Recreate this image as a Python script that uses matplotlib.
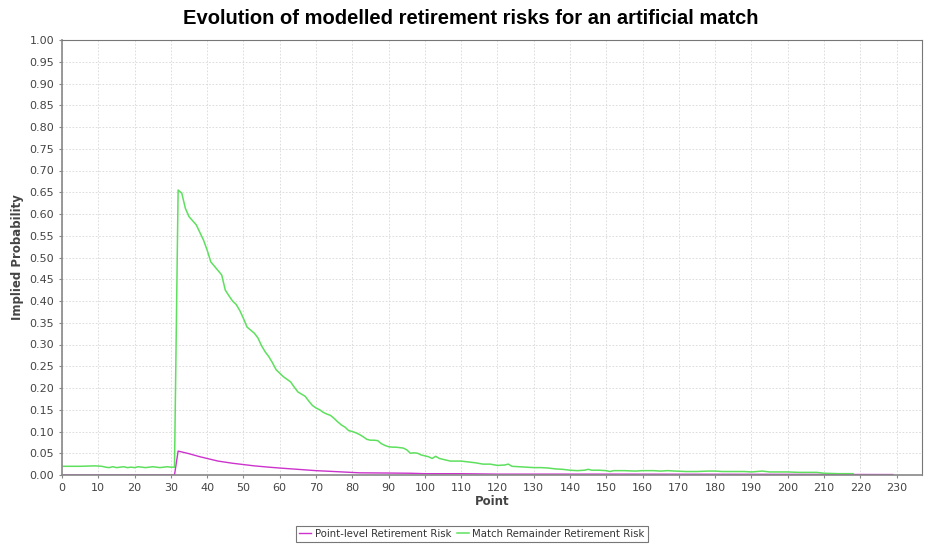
import matplotlib
matplotlib.use("Agg")
import matplotlib.pyplot as plt
from matplotlib.ticker import MultipleLocator, FormatStrFormatter

# Match Remainder Retirement Risk (green)
match_x = [0, 5, 9, 11, 12, 13, 14, 15, 16, 17, 18, 19, 20, 21, 22, 23, 24, 25,
           26, 27, 28, 29, 30, 31, 32, 33, 34, 35, 37, 39, 40, 41, 42, 43, 44,
           45, 46, 47, 48, 49, 50, 51, 52, 53, 54, 55, 56, 57, 58, 59, 60, 61,
           62, 63, 64, 65, 66, 67, 68, 69, 70, 71, 72, 73, 74, 75, 76, 77, 78,
           79, 80, 81, 82, 83, 84, 85, 86, 87, 88, 89, 90, 91, 92, 93, 94, 95,
           96, 97, 98, 99, 100, 101, 102, 103, 104, 105, 106, 107, 108, 110,
           112, 114, 116, 118, 120, 122, 123, 124, 126, 128, 130, 132, 134,
           136, 138, 140, 142, 144, 145, 146, 148, 150, 151, 152, 155, 158,
           160, 163, 165, 167, 169, 172, 175, 178, 180, 182, 185, 188, 190,
           193, 195, 198, 200, 203, 205, 208, 210, 214, 218]
match_y = [0.020, 0.020, 0.021, 0.020, 0.018, 0.017, 0.019, 0.017, 0.018, 0.019,
           0.017, 0.018, 0.017, 0.019, 0.018, 0.017, 0.018, 0.019, 0.018, 0.017,
           0.018, 0.019, 0.018, 0.018, 0.655, 0.648, 0.613, 0.594, 0.575, 0.540,
           0.517, 0.490, 0.480, 0.470, 0.460, 0.425, 0.412, 0.400, 0.392, 0.378,
           0.360, 0.340, 0.333, 0.326, 0.315, 0.297, 0.283, 0.272, 0.258, 0.242,
           0.234, 0.226, 0.220, 0.214, 0.202, 0.191, 0.186, 0.181, 0.170, 0.160,
           0.154, 0.150, 0.144, 0.140, 0.137, 0.130, 0.122, 0.115, 0.110, 0.102,
           0.100, 0.097, 0.093, 0.088, 0.082, 0.080, 0.080, 0.079, 0.072, 0.068,
           0.065, 0.064, 0.064, 0.063, 0.062, 0.058, 0.050, 0.051, 0.050, 0.046,
           0.044, 0.042, 0.038, 0.043, 0.038, 0.036, 0.034, 0.032, 0.032, 0.032,
           0.030, 0.028, 0.025, 0.025, 0.022, 0.023, 0.025, 0.020, 0.019, 0.018,
           0.017, 0.017, 0.016, 0.014, 0.013, 0.011, 0.010, 0.011, 0.013, 0.011,
           0.011, 0.010, 0.008, 0.010, 0.010, 0.009, 0.010, 0.010, 0.009, 0.010,
           0.009, 0.008, 0.008, 0.009, 0.009, 0.008, 0.008, 0.008, 0.007, 0.009,
           0.007, 0.007, 0.007, 0.006, 0.006, 0.006, 0.004, 0.003, 0.003]

# Point-level Retirement Risk (magenta)
point_x = [0, 31, 32, 35, 38, 40, 43, 47, 50, 53, 57, 60, 65, 70, 75, 82, 90, 96,
           100, 110, 120, 150, 200, 229]
point_y = [0.0, 0.0, 0.055, 0.049, 0.042, 0.038, 0.032, 0.027, 0.024, 0.021,
           0.018, 0.016, 0.013, 0.010, 0.008, 0.005, 0.0045, 0.004, 0.003,
           0.003, 0.002, 0.002, 0.0015, 0.001]

plt.rcParams['font.family'] = ['DejaVu Sans']

fig = plt.figure(figsize=(9.25, 5.45), dpi=100)
ax = fig.add_axes([62 / 925, 70 / 545, 860 / 925, 435 / 545])

ax.plot(point_x, point_y, color="#cc33cc", lw=1.0, label="Point-level Retirement Risk")
ax.plot(match_x, match_y, color="#5ee05e", lw=1.1, label="Match Remainder Retirement Risk")

ax.set_xlim(0, 237)
ax.set_ylim(0, 1.0)
ax.xaxis.set_major_locator(MultipleLocator(10))
ax.yaxis.set_major_locator(MultipleLocator(0.05))
ax.yaxis.set_major_formatter(FormatStrFormatter("%.2f"))
ax.tick_params(labelsize=8, labelcolor="#444444", color="#888888", length=2, width=0.8)
ax.grid(True, color="#d8d8d8", linestyle=(0, (2, 2)), linewidth=0.6)

for side in ["left", "bottom"]:
    ax.spines[side].set_color("#888888")
    ax.spines[side].set_linewidth(1.2)
for side in ["top", "right"]:
    ax.spines[side].set_color("#777777")
    ax.spines[side].set_linewidth(0.8)

ax.set_xlabel("Point", fontsize=8.5, fontweight="bold", color="#444444", labelpad=2)
ax.set_ylabel("Implied Probability", fontsize=8.5, fontweight="bold", color="#444444", labelpad=4)

fig.suptitle("Evolution of modelled retirement risks for an artificial match",
             x=471 / 925, y=1 - 18 / 545, va="center", fontsize=14.5, fontweight="bold",
             family=["Liberation Sans", "DejaVu Sans"])

leg = fig.legend(loc="center", bbox_to_anchor=(472 / 925, 1 - 534 / 545), ncol=2,
                 fontsize=7.3, frameon=True, fancybox=False, handlelength=1.2,
                 handletextpad=0.3, columnspacing=0.6, borderpad=0.3,
                 labelcolor="#333333")
leg.get_frame().set_edgecolor("#555555")
leg.get_frame().set_linewidth(0.8)

plt.savefig("out.png", dpi=100)
